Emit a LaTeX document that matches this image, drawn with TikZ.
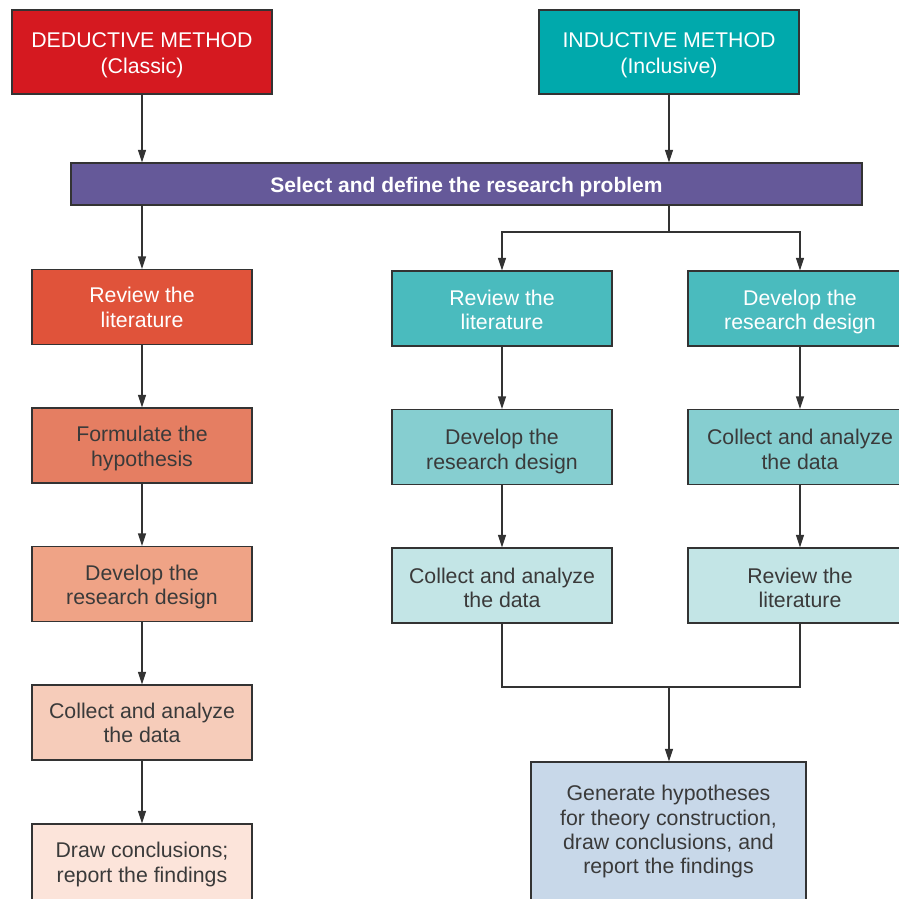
\documentclass[tikz,border=0pt]{standalone}
\usepackage{fontspec}
\setmainfont{Liberation Sans}
\usetikzlibrary{arrows.meta}
\definecolor{linegray}{HTML}{333333}
\definecolor{txtgray}{HTML}{3A3A3A}
\definecolor{dedred}{HTML}{D51920}
\definecolor{indteal}{HTML}{00A9AC}
\definecolor{barpurple}{HTML}{655999}
\definecolor{redA}{HTML}{E0533A}
\definecolor{redB}{HTML}{E57E62}
\definecolor{redC}{HTML}{EFA386}
\definecolor{redD}{HTML}{F6CCBA}
\definecolor{redE}{HTML}{FCE4DA}
\definecolor{tealA}{HTML}{4ABBBE}
\definecolor{tealB}{HTML}{86CED0}
\definecolor{tealC}{HTML}{C3E5E6}
\definecolor{blueA}{HTML}{C8D8E9}
\newcommand\lowtext[2]{\raisebox{-#1}[\height][\depth]{\begin{tabular}{@{}c@{}}#2\end{tabular}}}
\tikzset{
  box/.style={draw=linegray, line width=1.2pt, rectangle, inner sep=0pt,
    font=\fontsize{21.3}{24.3}\selectfont, text=txtgray},
  wtxt/.style={text=white},
  colbox/.style={box, minimum width=220pt, minimum height=75pt},
  rbox/.style={box, minimum width=224pt, minimum height=75pt},
  topbox/.style={box, minimum width=260pt, minimum height=84pt, font=\fontsize{21.3}{26}\selectfont},
  conn/.style={draw=linegray, line width=1.2pt},
  arr/.style={conn, -{Triangle[length=12.5pt,width=8pt]}},
}
\begin{document}
\begin{tikzpicture}[x=1pt,y=-1pt]
\useasboundingbox (0,0) rectangle (899,899);
\fill[white] (0,0) rectangle (899,899);
\clip (0,0) rectangle (899,899);

% top boxes
\node[topbox, wtxt, fill=dedred] (ded) at (142,52) {\lowtext{3pt}{DEDUCTIVE METHOD\\(Classic)}};
\node[topbox, wtxt, fill=indteal] (ind) at (669,52) {\lowtext{3pt}{INDUCTIVE METHOD\\(Inclusive)}};

% bar
\node[box, wtxt, fill=barpurple, minimum width=791pt, minimum height=42pt, font=\fontsize{21}{24}\selectfont\bfseries] (bar) at (466.5,184) {\lowtext{3.5pt}{Select and define the research problem}};

% left column
\node[colbox, wtxt, fill=redA] (L1) at (142,307) {\lowtext{3.2pt}{Review the\\literature}};
\node[colbox, fill=redB] (L2) at (142,445.5) {\lowtext{3.5pt}{Formulate the\\hypothesis}};
\node[colbox, fill=redC] (L3) at (142,584) {\lowtext{3.5pt}{Develop the\\research design}};
\node[colbox, fill=redD] (L4) at (142,722.5) {\lowtext{3pt}{Collect and analyze\\the data}};
\node[colbox, fill=redE, minimum height=77pt] (L5) at (142,862.5) {\lowtext{2.5pt}{Draw conclusions;\\report the findings}};

% middle column
\node[colbox, wtxt, fill=tealA] (M1) at (502,308.5) {\lowtext{4pt}{Review the\\literature}};
\node[colbox, fill=tealB] (M2) at (502,447) {\lowtext{5pt}{Develop the\\research design}};
\node[colbox, fill=tealC] (M3) at (502,585.5) {\lowtext{5pt}{Collect and analyze\\the data}};

% right column
\node[rbox, wtxt, fill=tealA] (R1) at (800,308.5) {\lowtext{4pt}{Develop the\\research design}};
\node[rbox, fill=tealB] (R2) at (800,447) {\lowtext{5pt}{Collect and analyze\\the data}};
\node[rbox, fill=tealC] (R3) at (800,585.5) {\lowtext{5pt}{Review the\\literature}};

% bottom box
\node[box, fill=blueA, minimum width=275pt, minimum height=139pt] (B) at (668.5,831.5) {\lowtext{1pt}{Generate hypotheses\\for theory construction,\\draw conclusions, and\\report the findings}};

% connectors
\draw[arr] (ded.south) -- (ded.south |- bar.north);
\draw[arr] (ind.south) -- (ind.south |- bar.north);
\draw[arr] (bar.south -| L1.north) -- (L1.north);
\draw[arr] (L1) -- (L2);
\draw[arr] (L2) -- (L3);
\draw[arr] (L3) -- (L4);
\draw[arr] (L4) -- (L5);

\coordinate (split) at (669,232);
\draw[conn] (bar.south -| split) -- (split);
\draw[arr] (split) -| (M1.north);
\draw[arr] (split) -| (R1.north);
\draw[arr] (M1) -- (M2);
\draw[arr] (M2) -- (M3);
\draw[arr] (R1) -- (R2);
\draw[arr] (R2) -- (R3);

\coordinate (merge) at (669,687);
\draw[conn] (M3.south) |- (merge);
\draw[conn] (R3.south) |- (merge);
\draw[arr] (merge) -- (merge |- B.north);
\end{tikzpicture}
\end{document}
